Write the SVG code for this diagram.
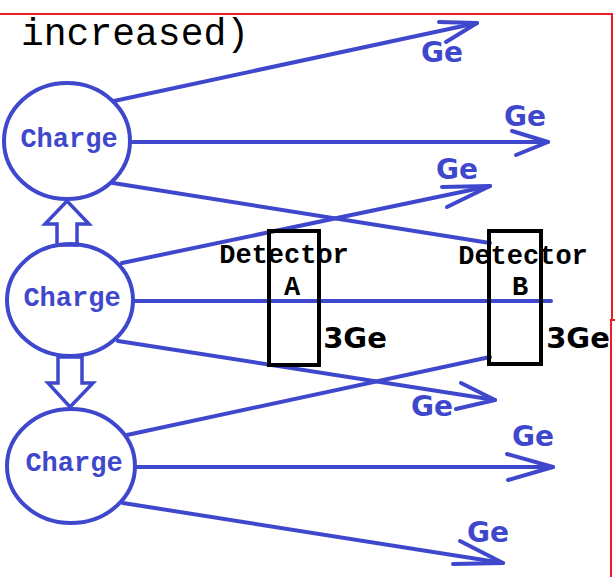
<svg xmlns="http://www.w3.org/2000/svg" width="615" height="577" viewBox="0 0 615 577">
<style>
.b{stroke:#3F48CC;stroke-width:4;fill:none;stroke-linecap:round;stroke-linejoin:round}
.h{stroke:#3F48CC;stroke-width:3.5;fill:none;stroke-linejoin:miter}
.node{stroke:#3F48CC;stroke-width:4;fill:none}
.det{stroke:#000;stroke-width:4;fill:none}
.ch{font-family:"Liberation Mono","Courier New",monospace;font-weight:bold;font-size:27px;fill:#3F48CC;text-anchor:middle}
.dt{font-family:"Liberation Mono","Courier New",monospace;font-weight:bold;font-size:27px;fill:#000;text-anchor:middle}
.ge{font-family:"DejaVu Sans",Verdana,sans-serif;font-weight:bold;font-size:28px;fill:#3F48CC;text-anchor:middle}
.g3{font-family:"DejaVu Sans",Verdana,sans-serif;font-weight:bold;font-size:29px;fill:#000;text-anchor:middle}
.red{stroke:#ED1C24;stroke-width:2;fill:none}
</style>
<rect width="615" height="577" fill="#fff"/>
<path class="red" d="M0,14 H612 V319"/>
<path class="red" d="M615,320 H611 V577"/>
<text x="21" y="45" font-family="Liberation Mono,'Courier New',monospace" font-size="38" fill="#000">increased)</text>
<g id="connectors">
<line class="b" x1="114" y1="101" x2="477" y2="23"/>
<polyline class="b" points="439,22 477,23 446,42"/>
<line class="b" x1="131" y1="142" x2="548" y2="142"/>
<polyline class="b" points="512,131 548,142 516,155"/>
<line class="b" x1="113" y1="183" x2="490" y2="243"/>
<line class="b" x1="122" y1="263" x2="490" y2="186"/>
<polyline class="b" points="442,187 490,186 447,207"/>
<line class="b" x1="133" y1="301" x2="551" y2="301"/>
<line class="b" x1="118" y1="341" x2="495" y2="400"/>
<polyline class="b" points="461,383 495,400 456,409"/>
<line class="b" x1="127" y1="435" x2="490" y2="357"/>
<line class="b" x1="135" y1="467" x2="553" y2="467"/>
<polyline class="b" points="507,454 553,467 508,480"/>
<line class="b" x1="123" y1="503" x2="503" y2="563"/>
<polyline class="b" points="460,541 503,563 453,564"/>
<polygon class="h" points="67,201 89,224 77,224 77,245 57,245 57,224 45,224"/>
<polygon class="h" points="70,407 93,383 82,383 82,357 58,357 58,383 48,383"/>
</g>
<g id="labels">
<text class="ge" x="442" y="62">Ge</text>
<text class="ge" x="525" y="126">Ge</text>
<text class="ge" x="457" y="179">Ge</text>
<text class="ge" x="432" y="416">Ge</text>
<text class="ge" x="533" y="446">Ge</text>
<text class="ge" x="488" y="542">Ge</text>
</g>
<g id="charge1">
<ellipse class="node" cx="67" cy="141" rx="63" ry="58"/>
<text class="ch" x="69" y="147">Charge</text>
</g>
<g id="charge2">
<ellipse class="node" cx="70" cy="300" rx="63" ry="56"/>
<text class="ch" x="72" y="306">Charge</text>
</g>
<g id="charge3">
<ellipse class="node" cx="71" cy="466" rx="64" ry="57"/>
<text class="ch" x="74" y="471">Charge</text>
</g>
<g id="detectorA">
<text class="dt" x="284" y="263">Detector</text>
<text class="dt" x="292" y="295">A</text>
<rect class="det" x="269" y="231" width="50" height="134"/>
<text class="g3" x="355" y="348">3Ge</text>
</g>
<g id="detectorB">
<text class="dt" x="523" y="264">Detector</text>
<text class="dt" x="520" y="295">B</text>
<rect class="det" x="489" y="231" width="52" height="133"/>
<text class="g3" x="578" y="348">3Ge</text>
</g>
</svg>
